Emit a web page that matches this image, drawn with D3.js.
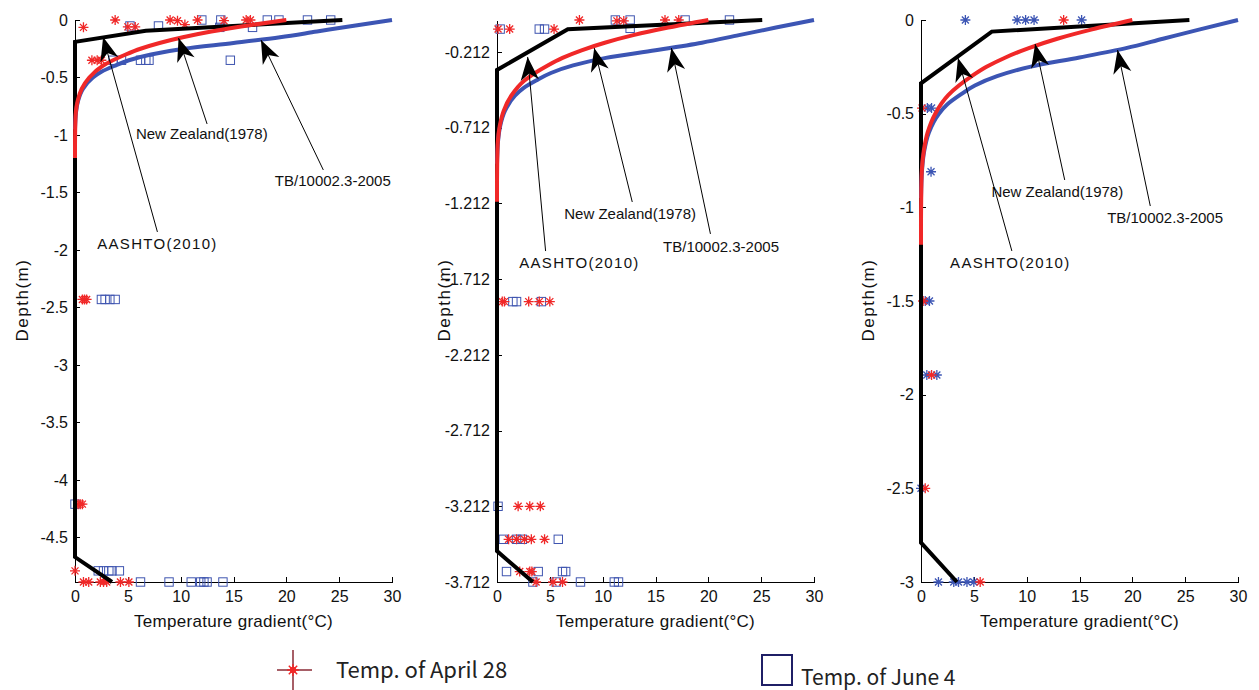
<!DOCTYPE html>
<html>
<head>
<meta charset="utf-8">
<title>temperature gradient</title>
<script src="https://cdn.jsdelivr.net/npm/d3@7"></script>
<style>
  body { margin: 0; background: #fff; }
  svg { display: block; font-family: "Liberation Sans", Arial, sans-serif; }
  .axis path, .axis line { stroke: #000; stroke-width: 1px; shape-rendering: crispEdges; }
  .axis text { font-size: 16px; fill: #111; font-family: "Liberation Sans", Arial, sans-serif; }
  .note { font-size: 15px; fill: #111; }
  .title { font-size: 17px; fill: #111; }
  .legend text { font-family: "Noto Sans CJK SC", "Noto Sans", sans-serif; fill: #222; }
</style>
</head>
<body>
<svg id="chart" width="1259" height="690"></svg>
<script>
// ---- data: [temperature gradient (°C), depth (m)] ----
var xTicks = [0, 5, 10, 15, 20, 25, 30];
var p1Ticks = [0, -0.5, -1, -1.5, -2, -2.5, -3, -3.5, -4, -4.5];
var p2Ticks = [-0.212, -0.712, -1.212, -1.712, -2.212, -2.712, -3.212, -3.712];
var p3Ticks = [0, -0.5, -1, -1.5, -2, -2.5, -3];

// New Zealand(1978) curve
var nzDepth = [0, 0.05, 0.1, 0.15, 0.2, 0.25, 0.3, 0.4, 0.5, 0.6, 0.7, 0.8, 0.9, 1.0, 1.1, 1.2];
var nzTemp = [20, 16.2, 12.9, 10.2, 8.0, 6.2, 4.8, 2.6, 1.35, 0.63, 0.26, 0.08, 0.03, 0.01, 0, 0];
// TB/10002.3-2005 curve
var tbDepth = [0, 0.05, 0.1, 0.15, 0.2, 0.25, 0.3, 0.35, 0.4, 0.45, 0.5, 0.6, 0.7, 0.8, 0.95];
var tbTemp = [30, 26.4, 22.9, 19.4, 15.0, 10.3, 7.2, 5.1, 3.7, 2.5, 1.7, 0.75, 0.3, 0.1, 0];

// AASHTO(2010) lines
var p1Aashto = [[25.3, 0], [6.7, -0.093], [0, -0.19], [0, -4.67], [3.5, -4.887]];
var p2Aashto = [[25.1, 0], [6.7, -0.061], [0, -0.33], [0, -3.508], [3.4, -3.712]];
var p3Aashto = [[25.4, 0], [6.7, -0.062], [0, -0.338], [0, -2.79], [3.4, -3.0]];

// measured, April 28
var p1April = [[0.8, -0.064], [3.8, 0], [5.0, -0.06], [5.7, -0.06], [9.0, 0], [9.7, -0.006], [10.4, -0.04],
  [11.6, 0], [14.1, -0.006], [16.2, 0], [16.6, 0], [1.6, -0.35], [2.1, -0.35], [2.5, -0.35],
  [0.7, -2.43], [0.9, -2.43], [1.1, -2.43], [0.3, -4.21], [0.5, -4.21], [0.7, -4.21], [0, -4.79],
  [0.8, -4.887], [1.3, -4.887], [2.4, -4.887], [2.7, -4.887], [3.0, -4.887], [4.3, -4.887], [5.1, -4.887]];
var p2April = [[0.1, -0.06], [1.2, -0.06], [5.4, -0.06], [7.8, 0], [11.35, -0.006], [12.0, -0.006], [15.9, 0], [17.2, 0],
  [0.5, -1.86], [0.7, -1.86], [3.0, -1.86], [4.0, -1.86], [5.0, -1.86],
  [2.0, -3.212], [3.1, -3.212], [4.1, -3.212],
  [1.1, -3.43], [1.85, -3.43], [2.6, -3.43], [3.25, -3.43], [4.5, -3.43],
  [2.15, -3.643], [3.1, -3.643], [3.3, -3.643], [3.7, -3.712], [5.3, -3.712], [6.2, -3.712]];
var p3April = [[13.5, 0], [0.1, -0.47], [0.2, -1.5], [1.0, -1.895], [0.4, -2.5], [5.6, -3.0]];

// measured, June 4
var p1June = [[5.2, -0.052], [7.9, -0.052], [12.0, 0], [13.8, 0], [13.7, -0.064], [16.8, -0.064], [18.2, 0],
  [19.3, 0], [22.0, 0], [24.2, 0], [3.6, -0.35], [4.4, -0.35], [6.2, -0.35], [6.7, -0.35], [7.0, -0.35], [14.7, -0.35],
  [2.5, -2.43], [2.85, -2.43], [3.3, -2.43], [3.8, -2.43], [0, -4.21],
  [2.2, -4.79], [2.7, -4.79], [3.2, -4.79], [3.5, -4.79], [4.2, -4.79],
  [6.2, -4.887], [8.9, -4.887], [11.0, -4.887], [11.9, -4.887], [12.2, -4.887], [12.5, -4.887], [14.0, -4.887]];
var p2June = [[0.3, -0.06], [4.0, -0.06], [4.5, -0.06], [11.2, 0], [12.6, 0], [12.6, -0.055], [17.8, 0], [22.0, 0],
  [1.5, -1.86], [1.85, -1.86], [4.2, -1.86], [0.1, -3.212],
  [0.6, -3.43], [1.85, -3.43], [2.4, -3.43], [5.8, -3.43],
  [0.9, -3.643], [3.9, -3.643], [6.2, -3.643], [6.5, -3.643],
  [3.4, -3.712], [5.6, -3.712], [7.9, -3.712], [11.1, -3.712], [11.5, -3.712]];
var p3June = [[4.2, 0], [9.1, 0], [9.9, 0], [10.7, 0], [15.2, 0], [0.6, -0.47], [1.0, -0.47], [0.95, -0.81],
  [0.4, -1.5], [0.8, -1.5], [0.55, -1.895], [1.5, -1.895], [0, -2.5],
  [1.65, -3], [3.1, -3], [3.55, -3], [4.35, -3], [5.0, -3]];

// annotations: label centre, arrow tail, arrow head (data units)
var p1Notes = [
  {text: 'New Zealand(1978)', at: [12.0, -0.99], from: [12.5, -0.904], to: [9.8, -0.157]},
  {text: 'TB/10002.3-2005', at: [24.4, -1.40], from: [23.5, -1.304], to: [17.6, -0.174]},
  {text: 'AASHTO(2010)', at: [7.8, -1.94], from: [7.8, -1.843], to: [2.66, -0.148]}
];
var p2Notes = [
  {text: 'New Zealand(1978)', at: [12.6, -1.275], from: [12.8, -1.202], to: [9.2, -0.185]},
  {text: 'TB/10002.3-2005', at: [21.2, -1.493], from: [20.2, -1.413], to: [16.5, -0.185]},
  {text: 'AASHTO(2010)', at: [7.8, -1.605], from: [4.6, -1.526], to: [2.9, -0.244]}
];
var p3Notes = [
  {text: 'New Zealand(1978)', at: [12.9, -0.918], from: [13.6, -0.854], to: [10.8, -0.128]},
  {text: 'TB/10002.3-2005', at: [23.1, -1.052], from: [21.7, -0.993], to: [18.6, -0.16]},
  {text: 'AASHTO(2010)', at: [8.45, -1.297], from: [8.6, -1.233], to: [3.5, -0.203]}
];

var panels = [
  {left: 75, yMin: -4.887, ticks: p1Ticks, aashto: p1Aashto, april: p1April, june: p1June, juneStar: false, notes: p1Notes},
  {left: 497, yMin: -3.712, ticks: p2Ticks, aashto: p2Aashto, april: p2April, june: p2June, juneStar: false, notes: p2Notes},
  {left: 921, yMin: -3.0, ticks: p3Ticks, aashto: p3Aashto, april: p3April, june: p3June, juneStar: true, notes: p3Notes}
];

var RED = '#f02828', BLUE = '#3c55b4', SQ = '#3f55b0';
var plotTop = 20, plotBottom = 582, plotWidth = 317;

var svg = d3.select('#chart');
svg.append('rect').attr('width', 1259).attr('height', 690).attr('fill', '#fff');

svg.append('defs').append('marker')
  .attr('id', 'arrow')
  .attr('markerUnits', 'userSpaceOnUse')
  .attr('markerWidth', 30).attr('markerHeight', 30)
  .attr('viewBox', '-16 -8 18 16')
  .attr('refX', 0).attr('refY', 0)
  .attr('orient', 'auto')
  .append('path')
  .attr('d', 'M0,0 L-14,-5.5 L-10,0 L-14,5.5 Z')
  .attr('fill', '#000');

function starPath(r) {
  var k = r * 0.7;
  return 'M' + (-r) + ',0L' + r + ',0M0,' + (-r) + 'L0,' + r +
    'M' + (-k) + ',' + (-k) + 'L' + k + ',' + k + 'M' + (-k) + ',' + k + 'L' + k + ',' + (-k);
}

panels.forEach(function(p) {
  var x = d3.scaleLinear().domain([0, 30]).range([p.left, p.left + plotWidth]);
  var y = d3.scaleLinear().domain([p.yMin, 0]).range([plotBottom, plotTop]);
  var g = svg.append('g');

  g.append('g').attr('class', 'axis')
    .attr('transform', 'translate(0,' + plotBottom + ')')
    .call(d3.axisBottom(x).tickValues(xTicks).tickSizeInner(-5).tickSizeOuter(0).tickPadding(9)
      .tickFormat(function(d) { return String(d); }));
  g.append('g').attr('class', 'axis')
    .attr('transform', 'translate(' + p.left + ',0)')
    .call(d3.axisLeft(y).tickValues(p.ticks).tickSizeInner(-5).tickSizeOuter(0).tickPadding(7)
      .tickFormat(function(d) { return String(d); }));

  g.append('text').attr('class', 'title')
    .attr('transform', 'translate(' + (p.left - 53) + ',300) rotate(-90)')
    .attr('text-anchor', 'middle').attr('dominant-baseline', 'central')
    .attr('letter-spacing', '1.5px')
    .text('Depth(m)');
  g.append('text').attr('class', 'title')
    .attr('x', x(15)).attr('y', 621)
    .attr('text-anchor', 'middle').attr('dominant-baseline', 'central')
    .attr('letter-spacing', '0.3px')
    .text('Temperature gradient(°C)');

  // June 4 points
  if (p.juneStar) {
    g.selectAll('.june').data(p.june).enter().append('path')
      .attr('transform', function(d) { return 'translate(' + x(d[0]) + ',' + y(d[1]) + ')'; })
      .attr('d', starPath(5)).attr('stroke', BLUE).attr('stroke-width', 1.3).attr('fill', 'none');
  } else {
    g.selectAll('.june').data(p.june).enter().append('rect')
      .attr('x', function(d) { return x(d[0]) - 4.2; })
      .attr('y', function(d) { return y(d[1]) - 4.2; })
      .attr('width', 8.4).attr('height', 8.4)
      .attr('fill', 'none').attr('stroke', SQ).attr('stroke-width', 1);
  }
  // April 28 points
  g.selectAll('.april').data(p.april).enter().append('path')
    .attr('transform', function(d) { return 'translate(' + x(d[0]) + ',' + y(d[1]) + ')'; })
    .attr('d', starPath(5)).attr('stroke', RED).attr('stroke-width', 1.3).attr('fill', 'none');

  // code curves
  g.append('path').datum(p.aashto)
    .attr('d', d3.line().x(function(d) { return x(d[0]); }).y(function(d) { return y(d[1]); }))
    .attr('fill', 'none').attr('stroke', '#000').attr('stroke-width', 4);

  var curve = d3.line().curve(d3.curveMonotoneY)
    .x(function(d) { return x(d[0]); }).y(function(d) { return y(d[1]); });
  g.append('path').datum(tbDepth.map(function(d, i) { return [tbTemp[i], -d]; }))
    .attr('d', curve).attr('fill', 'none').attr('stroke', BLUE).attr('stroke-width', 4);
  g.append('path').datum(nzDepth.map(function(d, i) { return [nzTemp[i], -d]; }))
    .attr('d', curve).attr('fill', 'none').attr('stroke', RED).attr('stroke-width', 4);

  // annotations
  p.notes.forEach(function(n) {
    g.append('line')
      .attr('x1', x(n.from[0])).attr('y1', y(n.from[1]))
      .attr('x2', x(n.to[0])).attr('y2', y(n.to[1]))
      .attr('stroke', '#000').attr('stroke-width', 1)
      .attr('marker-end', 'url(#arrow)');
    g.append('text').attr('class', 'note')
      .attr('x', x(n.at[0])).attr('y', y(n.at[1]))
      .attr('text-anchor', 'middle').attr('dominant-baseline', 'central')
      .attr('letter-spacing', n.text.indexOf('AASHTO') === 0 ? '1.3px' : null)
      .text(n.text);
  });
});

// legend
var lg = svg.append('g').attr('class', 'legend');
lg.append('line').attr('x1', 277).attr('x2', 312).attr('y1', 670).attr('y2', 670)
  .attr('stroke', '#8a2a35').attr('stroke-width', 1.5);
lg.append('line').attr('x1', 293).attr('x2', 293).attr('y1', 650).attr('y2', 690)
  .attr('stroke', '#8a2a35').attr('stroke-width', 1.5);
lg.append('path').attr('transform', 'translate(293,670)').attr('d', starPath(6))
  .attr('stroke', RED).attr('stroke-width', 1.5).attr('fill', 'none');
lg.append('circle').attr('cx', 293).attr('cy', 670).attr('r', 3.2).attr('fill', RED);
lg.append('text').attr('x', 336).attr('y', 678).attr('font-size', 22).text('Temp. of April 28');
lg.append('rect').attr('x', 762).attr('y', 655).attr('width', 30).attr('height', 30)
  .attr('fill', 'none').attr('stroke', '#1f1f66').attr('stroke-width', 2);
lg.append('text').attr('x', 801).attr('y', 685).attr('font-size', 21).text('Temp. of June 4');
</script>
</body>
</html>
